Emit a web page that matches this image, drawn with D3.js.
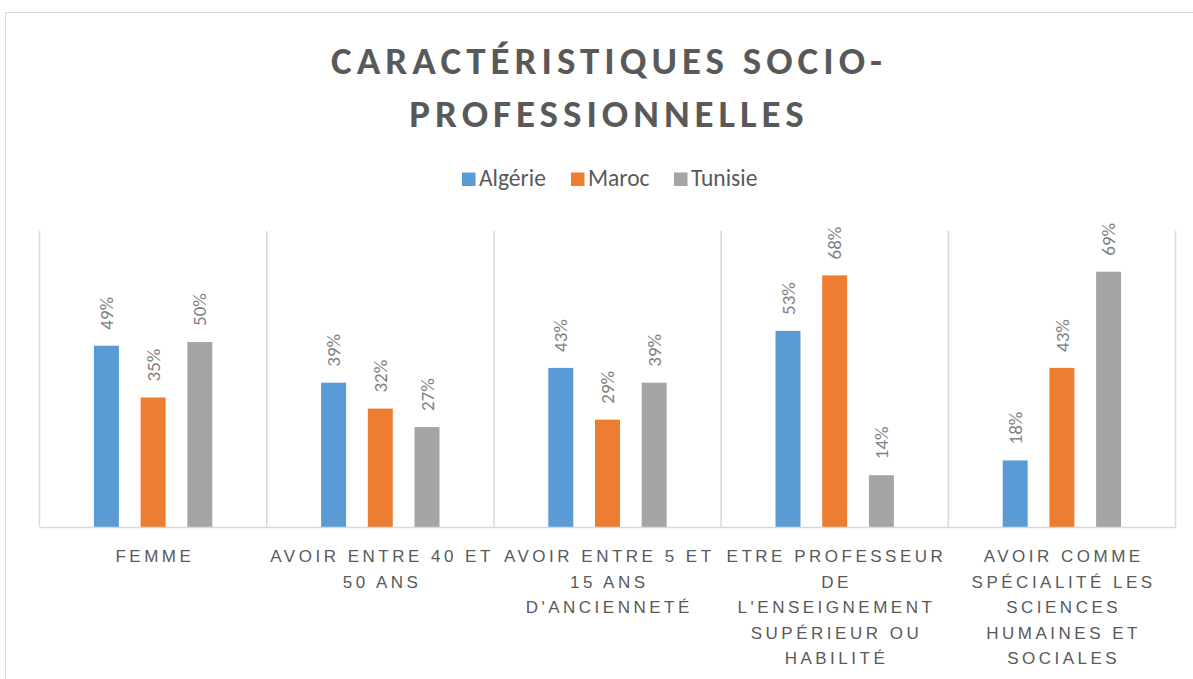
<!DOCTYPE html>
<html>
<head>
<meta charset="utf-8">
<script src="https://cdn.jsdelivr.net/npm/d3@7"></script>
<style>
  html, body { margin: 0; padding: 0; background: #fff; }
  svg { display: block; font-family: Carlito, Lato, "Noto Sans", sans-serif; }
</style>
</head>
<body>
<svg id="chart" width="1193" height="679"></svg>
<script>
// Category labels, one array of wrapped lines per category
const categories = [
  "Femme",
  "Avoir entre 40 et 50 ans",
  "Avoir entre 5 et 15 ans d'ancienneté",
  "Etre professeur de l'enseignement supérieur ou habilité",
  "Avoir comme spécialité les sciences humaines et sociales"
];
const tickLines = [
  ["FEMME"],
  ["AVOIR ENTRE 40 ET", "50 ANS"],
  ["AVOIR ENTRE 5 ET", "15 ANS", "D'ANCIENNETÉ"],
  ["ETRE PROFESSEUR", "DE", "L'ENSEIGNEMENT", "SUPÉRIEUR OU", "HABILITÉ"],
  ["AVOIR COMME", "SPÉCIALITÉ LES", "SCIENCES", "HUMAINES ET", "SOCIALES"]
];
const series = ["Algérie", "Maroc", "Tunisie"];
const colors = ["#5b9bd5", "#ed7d31", "#a5a5a5"];
// Share of respondents per category, one array per country
const algerie = [0.49, 0.39, 0.43, 0.53, 0.18];
const maroc   = [0.35, 0.32, 0.29, 0.68, 0.43];
const tunisie = [0.50, 0.27, 0.39, 0.14, 0.69];
const values = [algerie, maroc, tunisie];

const svg = d3.select("#chart");

// outer chart frame
svg.append("rect")
  .attr("x", 5.5).attr("y", 12.5)
  .attr("width", 1250).attr("height", 720)
  .attr("fill", "#fff").attr("stroke", "#d9d9d9").attr("stroke-width", 1);

// title
const title = svg.append("text")
  .attr("text-anchor", "middle")
  .attr("fill", "#595959")
  .attr("font-weight", "bold")
  .attr("font-size", 39)
  .attr("letter-spacing", 5);
title.append("tspan").attr("x", 609).attr("y", 74).text("CARACTÉRISTIQUES SOCIO-");
title.append("tspan").attr("x", 609).attr("y", 127).text("PROFESSIONNELLES");

// legend
const legendPos = [462, 571, 674];
const legend = svg.append("g");
series.forEach((s, i) => {
  const g = legend.append("g").attr("transform", `translate(${legendPos[i]},186)`);
  g.append("rect").attr("x", 0).attr("y", -13.5).attr("width", 13.5).attr("height", 13.5).attr("fill", colors[i]);
  g.append("text").attr("x", 17).attr("y", 0)
    .attr("fill", "#595959").attr("font-size", 23.5).text(s);
});

// scales
const plotLeft = 39.5, plotRight = 1175.5, plotTop = 231, plotBottom = 527;
const x0 = d3.scaleBand().domain(categories).range([plotLeft, plotRight]).paddingInner(0).paddingOuter(0);
const x1 = d3.scaleBand().domain(series).range([0, x0.bandwidth()]).paddingInner(0.465).paddingOuter(1.165);
const y = d3.scaleLinear().domain([0, 0.8]).range([plotBottom, plotTop]);

// vertical gridlines at category boundaries
const bounds = categories.map(c => x0(c)).concat([plotRight]);
svg.append("g").selectAll("line").data(bounds).join("line")
  .attr("x1", d => d).attr("x2", d => d)
  .attr("y1", plotTop).attr("y2", plotBottom)
  .attr("stroke", "#d9d9d9").attr("stroke-width", 1.5);

// bars
const groups = svg.append("g").selectAll("g").data(series).join("g")
  .attr("fill", (d, i) => colors[i]);
groups.each(function(s, si) {
  const g = d3.select(this);
  const data = values[si].map((v, ci) => ({ c: categories[ci], v }));
  g.selectAll("rect").data(data).join("rect")
    .attr("x", d => x0(d.c) + x1(s))
    .attr("y", d => y(d.v))
    .attr("width", x1.bandwidth())
    .attr("height", d => y(0) - y(d.v));
  // value labels, rotated
  g.selectAll("text").data(data).join("text")
    .attr("transform", d => `translate(${x0(d.c) + x1(s) + x1.bandwidth() / 2},${y(d.v) - 16}) rotate(-90)`)
    .attr("dy", "0.35em")
    .attr("text-anchor", "start")
    .attr("fill", "#7f7f7f")
    .attr("font-size", 19)
    .text(d => Math.round(d.v * 100) + "%");
});

// category axis
const xAxis = d3.axisBottom(x0).tickSize(0).tickFormat("");
const axisG = svg.append("g").attr("transform", `translate(0,${plotBottom})`).call(xAxis);
axisG.select(".domain").attr("stroke", "#d9d9d9").attr("stroke-width", 1.5);
axisG.selectAll(".tick text").remove();
axisG.selectAll(".tick").each(function(c, i) {
  const t = d3.select(this).append("text")
    .attr("text-anchor", "middle")
    .attr("fill", "#595959")
    .attr("font-size", 17)
    .attr("letter-spacing", 3.5);
  tickLines[i].forEach((line, li) => {
    t.append("tspan").attr("x", 1.75).attr("y", 29.5 + li * 25.5).attr("dy", "0.35em").text(line);
  });
});
</script>
</body>
</html>
